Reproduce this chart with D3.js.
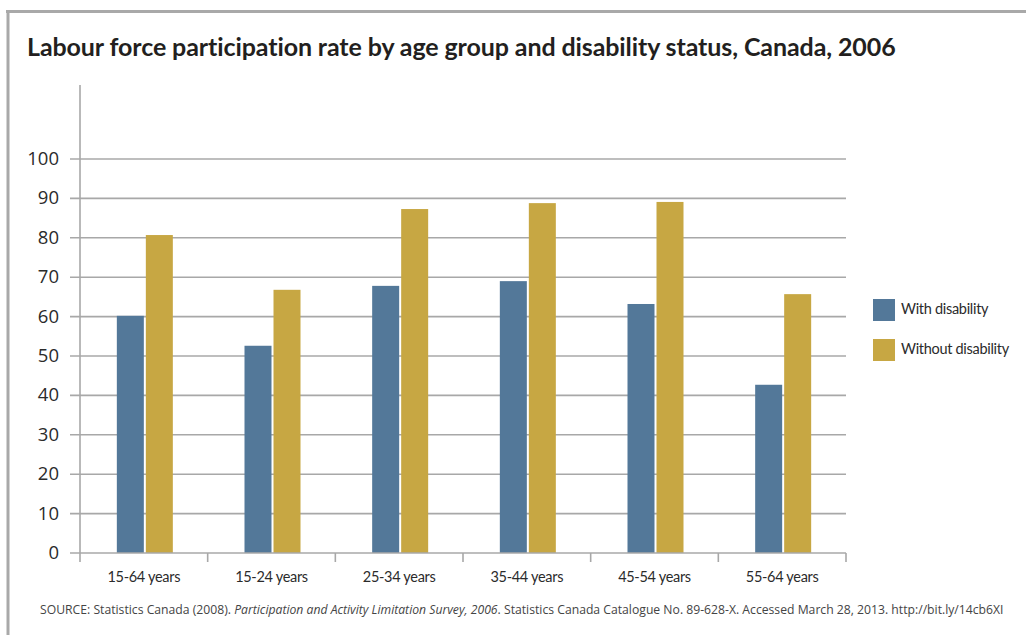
<!DOCTYPE html>
<html>
<head>
<meta charset="utf-8">
<script src="https://cdn.jsdelivr.net/npm/d3@7"></script>
<style>
  body { margin: 0; background: #fff; }
  svg { display: block; }
</style>
</head>
<body>
<script>
// chart data
const ageGroups = ["15-64 years", "15-24 years", "25-34 years", "35-44 years", "45-54 years", "55-64 years"];
const withDisability = [60.2, 52.6, 67.8, 69.0, 63.2, 42.7];
const withoutDisability = [80.7, 66.8, 87.3, 88.8, 89.1, 65.7];
const seriesNames = ["With disability", "Without disability"];
const yTicks = [0, 10, 20, 30, 40, 50, 60, 70, 80, 90, 100];

const W = 1026, H = 635;
const colors = ["#537899", "#c7a743"];

const svg = d3.select("body").append("svg")
  .attr("width", W)
  .attr("height", H);

// frame (top and left grey rules)
svg.append("line").attr("x1", 6).attr("x2", W).attr("y1", 11.5).attr("y2", 11.5)
  .attr("stroke", "#a9a9a9").attr("stroke-width", 3);
svg.append("line").attr("x1", 8).attr("x2", 8).attr("y1", 10).attr("y2", H)
  .attr("stroke", "#a9a9a9").attr("stroke-width", 3);

// title
svg.append("text")
  .attr("x", 27).attr("y", 56)
  .style("font-family", "Lato")
  .style("font-weight", "bold")
  .style("font-size", "25px")
  .style("letter-spacing", "-0.1px")
  .style("fill", "#231f20")
  .text("Labour force participation rate by age group and disability status, Canada, 2006");

const plotLeft = 80, plotRight = 846, plotTop = 159, plotBottom = 553;

const x0 = d3.scaleBand().domain(ageGroups).range([plotLeft, plotRight]);
const y = d3.scaleLinear().domain([0, 100]).range([plotBottom, plotTop]);

// gridlines
svg.append("g").selectAll("line")
  .data(yTicks.slice(1))
  .enter().append("line")
  .attr("x1", 70).attr("x2", plotRight)
  .attr("y1", d => y(d)).attr("y2", d => y(d))
  .attr("stroke", "#a8a8a8").attr("stroke-width", 1.6);

// y labels
svg.append("g").selectAll("text")
  .data(yTicks)
  .enter().append("text")
  .attr("x", 59).attr("y", d => y(d) + 6)
  .attr("text-anchor", "end")
  .style("font-family", "Open Sans")
  .style("font-size", "18.5px")
  .style("fill", "#2b2b2b")
  .text(d => d);

// bars
const barW = 27, gap = 2;
const rows = ageGroups.map((g, i) => ({ group: g, vals: [withDisability[i], withoutDisability[i]] }));
const groups = svg.append("g").selectAll("g")
  .data(rows)
  .enter().append("g")
  .attr("transform", d => `translate(${x0(d.group) + x0.bandwidth() / 2}, 0)`);

groups.selectAll("rect")
  .data(d => d.vals)
  .enter().append("rect")
  .attr("x", (d, i) => i === 0 ? -barW - gap / 2 + 1 : gap / 2 + 1)
  .attr("y", d => y(d))
  .attr("width", barW)
  .attr("height", d => plotBottom - y(d))
  .style("fill", (d, i) => colors[i]);

// y axis line
svg.append("line").attr("x1", plotLeft).attr("x2", plotLeft).attr("y1", 85).attr("y2", plotBottom)
  .attr("stroke", "#a8a8a8").attr("stroke-width", 1.6);

// x axis line + ticks
svg.append("line").attr("x1", 70).attr("x2", plotRight).attr("y1", plotBottom).attr("y2", plotBottom)
  .attr("stroke", "#a8a8a8").attr("stroke-width", 1.6);
const tickXs = ageGroups.map(g => x0(g)).concat([plotRight]);
svg.append("g").selectAll("line")
  .data(tickXs)
  .enter().append("line")
  .attr("x1", d => d).attr("x2", d => d)
  .attr("y1", plotBottom).attr("y2", plotBottom + 9)
  .attr("stroke", "#a8a8a8").attr("stroke-width", 1.6);

// x labels
svg.append("g").selectAll("text")
  .data(ageGroups)
  .enter().append("text")
  .attr("x", d => x0(d) + x0.bandwidth() / 2)
  .attr("y", 582)
  .attr("text-anchor", "middle")
  .style("font-family", "Lato")
  .style("font-size", "14.5px")
  .style("letter-spacing", "-0.3px")
  .style("fill", "#2b2b2b")
  .text(d => d);

// legend
const legend = svg.append("g").selectAll("g")
  .data(seriesNames)
  .enter().append("g")
  .attr("transform", (d, i) => `translate(873, ${299 + i * 40})`);
legend.append("rect").attr("width", 22).attr("height", 22)
  .style("fill", (d, i) => colors[i]);
legend.append("text").attr("x", 28).attr("y", 15)
  .style("font-family", "Lato")
  .style("font-size", "14.5px")
  .style("letter-spacing", "-0.3px")
  .style("fill", "#2b2b2b")
  .text(d => d);

// source note
const src = svg.append("text")
  .attr("x", 40).attr("y", 614)
  .style("font-family", "Open Sans")
  .style("font-size", "12.2px")
  .style("fill", "#444");
src.append("tspan").text("SOURCE: Statistics Canada (2008). ");
src.append("tspan").style("font-style", "italic").text("Participation and Activity Limitation Survey, 2006");
src.append("tspan").text(". Statistics Canada Catalogue No. 89-628-X. Accessed March 28, 2013. http://bit.ly/14cb6XI");
</script>
</body>
</html>
